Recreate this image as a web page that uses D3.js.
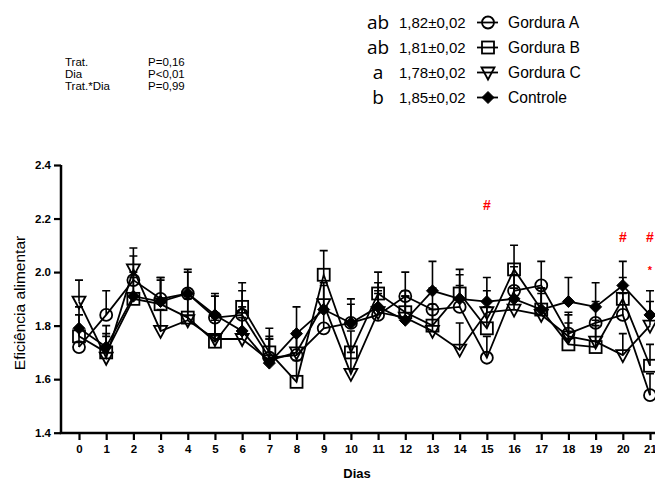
<!DOCTYPE html>
<html><head><meta charset="utf-8">
<script src="https://cdn.jsdelivr.net/npm/d3@7"></script>
<style>body{margin:0;background:#fff}svg{display:block;font-family:"Liberation Sans",Arial,sans-serif}</style>
</head><body>
<svg id="c" width="655" height="479"></svg>
<script>
const days = [0,1,2,3,4,5,6,7,8,9,10,11,12,13,14,15,16,17,18,19,20,21];
const gorduraA = [1.72,1.84,1.97,1.90,1.92,1.83,1.84,1.68,1.69,1.79,1.81,1.84,1.91,1.86,1.87,1.68,1.93,1.95,1.77,1.81,1.84,1.54];
const gorduraB = [1.76,1.70,1.90,1.88,1.83,1.74,1.87,1.70,1.59,1.99,1.70,1.92,1.85,1.80,1.92,1.79,2.01,1.86,1.73,1.72,1.90,1.65];
const gorduraC = [1.89,1.68,2.01,1.78,1.82,1.75,1.75,1.67,1.70,1.88,1.62,1.85,1.83,1.78,1.71,1.85,1.86,1.84,1.76,1.74,1.69,1.80];
const controle = [1.79,1.72,1.91,1.89,1.92,1.84,1.78,1.66,1.77,1.86,1.81,1.87,1.82,1.93,1.90,1.89,1.90,1.86,1.89,1.87,1.95,1.84];
const seA = [0.07,0.09,0.09,0.08,0.08,0.08,0.09,0.08,0.08,0.08,0.07,0.08,0.09,0.08,0.08,0.08,0.09,0.09,0.08,0.08,0.08,0.08];
const seB = [0.08,0.07,0.08,0.09,0.08,0.08,0.09,0.09,0.08,0.09,0.08,0.08,0.08,0.08,0.09,0.08,0.09,0.08,0.08,0.08,0.08,0.08];
const seC = [0.08,0.08,0.08,0.08,0.08,0.08,0.08,0.08,0.08,0.08,0.08,0.08,0.08,0.08,0.10,0.08,0.08,0.08,0.08,0.08,0.08,0.09];
const seD = [0.08,0.08,0.09,0.09,0.09,0.08,0.09,0.09,0.10,0.09,0.09,0.09,0.09,0.11,0.09,0.09,0.09,0.08,0.09,0.09,0.09,0.09];
const yTicks = [1.4,1.6,1.8,2.0,2.2,2.4];
const seriesNames = ["Gordura A","Gordura B","Gordura C","Controle"];
const seriesLetters = ["ab","ab","a","b"];
const seriesMeans = ["1,82±0,02","1,81±0,02","1,78±0,02","1,85±0,02"];
const symbols = ["circle","square","triangle","diamond"];
const statLabels = ["Trat.","Dia","Trat.*Dia"];
const statValues = ["P=0,16","P<0,01","P=0,99"];
const marks = [{day:15,v:2.25,t:"#"},{day:20,v:2.13,t:"#"},{day:21,v:2.13,t:"#"},{day:21,v:2.01,t:"*"}];

const series = [gorduraA,gorduraB,gorduraC,controle].map((vals,i)=>({
  name:seriesNames[i], sym:symbols[i],
  pts: days.map((d,j)=>({d, v:vals[j], se:[seA,seB,seC,seD][i][j]}))
}));

const svg = d3.select("#c");
const x = d3.scaleLinear().domain([0,21]).range([79,650]);
const y = d3.scaleLinear().domain([1.4,2.4]).range([432.7,165]);

function drawSym(g, sym, cx, cy){
  if(sym==="circle") g.append("circle").attr("cx",cx).attr("cy",cy).attr("r",6).attr("fill","none").attr("stroke","#000").attr("stroke-width",1.8);
  else if(sym==="square") g.append("rect").attr("x",cx-6).attr("y",cy-6).attr("width",12).attr("height",12).attr("fill","none").attr("stroke","#000").attr("stroke-width",1.8);
  else if(sym==="triangle") g.append("path").attr("d",`M${cx-6.5},${cy-5}L${cx+6.5},${cy-5}L${cx},${cy+7}Z`).attr("fill","none").attr("stroke","#000").attr("stroke-width",1.8);
  else g.append("path").attr("d",`M${cx},${cy-6}L${cx+6},${cy}L${cx},${cy+6}L${cx-6},${cy}Z`).attr("fill","#000").attr("stroke","#000").attr("stroke-width",1);
}

// axes
const yAxis = d3.axisLeft(y).tickValues(yTicks).tickFormat(d3.format(".1f")).tickSize(7).tickPadding(3);
const gy = svg.append("g").attr("transform","translate(61,0)").call(yAxis);
gy.select(".domain").attr("stroke-width",2.5).attr("d","M0,165V433.9");
gy.selectAll(".tick line").attr("stroke-width",2.2);
gy.selectAll("text").attr("font-size",11.5).attr("font-weight","bold").attr("fill","#000").attr("font-family","'Liberation Sans',Arial");

const xAxis = d3.axisBottom(x).tickValues(days).tickFormat(d3.format("d")).tickSize(7).tickPadding(5);
const gx = svg.append("g").attr("transform","translate(0,433)").call(xAxis);
gx.select(".domain").attr("stroke-width",2.5).attr("d","M59.8,0H660");
gx.selectAll(".tick line").attr("stroke-width",2.2);
gx.selectAll("text").attr("font-size",11.5).attr("font-weight","bold").attr("fill","#000").attr("font-family","'Liberation Sans',Arial");

svg.append("text").attr("x",357).attr("y",478).attr("text-anchor","middle").attr("font-size",13).attr("font-weight","bold").text("Dias");
svg.append("text").attr("transform","translate(25,303) rotate(-90)").attr("text-anchor","middle").attr("font-size",15.5).text("Eficiência alimentar");

// plot
const line = d3.line().x(p=>x(p.d)).y(p=>y(p.v));
series.forEach(s=>{
  const g = svg.append("g");
  g.selectAll(".eb").data(s.pts).join("path").attr("fill","none").attr("stroke","#000").attr("stroke-width",1.6)
    .attr("d",p=>`M${x(p.d)},${y(p.v)}V${y(p.v+p.se)}M${x(p.d)-4},${y(p.v+p.se)}H${x(p.d)+4}`);
  g.append("path").datum(s.pts).attr("d",line).attr("fill","none").attr("stroke","#000").attr("stroke-width",1.8);
  s.pts.forEach(p=>drawSym(g,s.sym,x(p.d),y(p.v)));
});

// significance marks
svg.selectAll(".sig").data(marks).join("text").attr("x",m=>x(m.day)).attr("y",m=>y(m.v)+5)
  .attr("text-anchor","middle").attr("fill","#ff0000").attr("font-weight","bold")
  .attr("font-size",m=>m.t==="#"?14:11).text(m=>m.t);

// stats
statLabels.forEach((t,i)=>{
  svg.append("text").attr("x",65).attr("y",66+i*12.2).attr("font-size",11.5).text(t);
  svg.append("text").attr("x",148).attr("y",66+i*12.2).attr("font-size",11.5).text(statValues[i]);
});

// legend
seriesNames.forEach((n,i)=>{
  const cy = 22.5+i*25;
  svg.append("text").attr("x",378).attr("y",cy+6).attr("text-anchor","middle").attr("font-size",19).attr("font-family","'Liberation Sans Narrow','Open Sans',sans-serif").text(seriesLetters[i]);
  svg.append("text").attr("x",399).attr("y",cy+5.5).attr("font-size",15).text(seriesMeans[i]);
  const g = svg.append("g");
  g.append("line").attr("x1",477).attr("x2",498).attr("y1",cy).attr("y2",cy).attr("stroke","#000").attr("stroke-width",1.8);
  drawSym(g,symbols[i],488,cy);
  svg.append("text").attr("x",508).attr("y",cy+5.5).attr("font-size",15.6).text(n);
});
</script>
</body></html>
